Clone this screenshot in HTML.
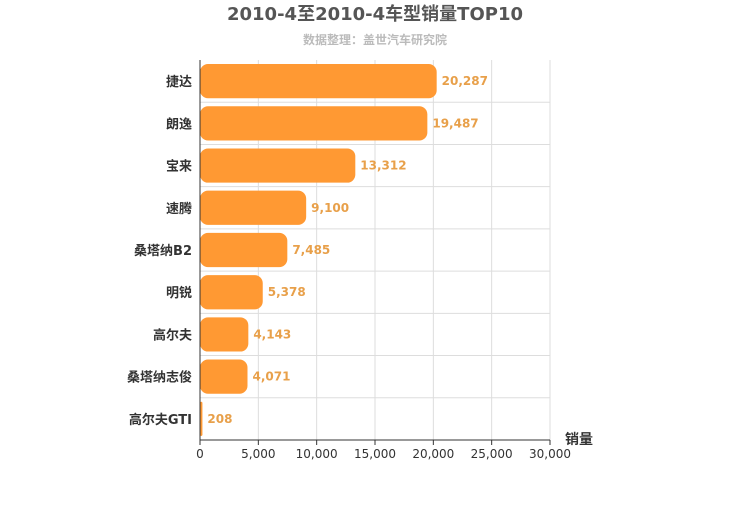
<!DOCTYPE html>
<html><head><meta charset="utf-8"><style>
body{margin:0;background:#fff;}
svg text{font-family:"DejaVu Sans","Noto Sans CJK SC",sans-serif;}
</style></head><body>
<svg id="chart" width="750" height="500" xmlns="http://www.w3.org/2000/svg">
<text x="375" y="20" text-anchor="middle" font-size="18" font-weight="bold" fill="#555">2010-4至2010-4车型销量TOP10</text>
<text x="375" y="44" text-anchor="middle" font-size="12" font-weight="bold" fill="#bbb">数据整理：盖世汽车研究院</text>
<g id="grid"></g><g id="bars"></g><g id="axis"></g>
<text x="565" y="444" font-size="14" font-weight="bold" fill="#333">销量</text>
</svg>
<script>
const categories=["捷达","朗逸","宝来","速腾","桑塔纳B2","明锐","高尔夫","桑塔纳志俊","高尔夫GTI"];
const values=[20287,19487,13312,9100,7485,5378,4143,4071,208];
const xTicks=[0,5000,10000,15000,20000,25000,30000];
const ns="http://www.w3.org/2000/svg";
const L=200,R=550,T=60,B=440,xMax=30000;
const x=v=>L+(v/xMax)*(R-L);
const band=(B-T)/categories.length;
function mk(tag,attrs,parent,text){const e=document.createElementNS(ns,tag);for(const k in attrs)e.setAttribute(k,attrs[k]);if(text!==undefined)e.textContent=text;document.getElementById(parent).appendChild(e);return e;}
xTicks.forEach(t=>{const g=mk("line",{x1:x(t),x2:x(t),y1:T,y2:B,stroke:"#ddd"},"grid");


const tk=mk("line",{x1:x(t),x2:x(t),y1:B,y2:B+5,stroke:"#333"},"axis");


const tl=mk("text",{x:x(t),y:B+18,"text-anchor":"middle","font-size":"12",fill:"#333"},"axis",t.toLocaleString("en-US"));

});
categories.forEach((c,i)=>{const y0=T+i*band;
const gl=mk("line",{x1:L,x2:R,y1:y0+band,y2:y0+band,stroke:"#ddd"},"grid");


const w=Math.max(x(values[i])-L,2);
const r=mk("rect",{x:L,y:y0+4,width:w,height:band-8,rx:Math.min(8,w/2),fill:"#ff9933"},"bars");


const vl=mk("text",{x:x(values[i])+5,y:y0+band/2+4,"font-size":"12","font-weight":"bold",fill:"#e8a04a"},"bars",values[i].toLocaleString("en-US"));


const cl=mk("text",{x:L-8,y:y0+band/2+5,"text-anchor":"end","font-size":"13","font-weight":"bold",fill:"#333"},"axis",c);

});
const ya=mk("line",{x1:L,x2:L,y1:T,y2:B,stroke:"#333"},"axis");


const xa=mk("line",{x1:L,x2:R,y1:B,y2:B,stroke:"#333"},"axis");


</script>
</body></html>
